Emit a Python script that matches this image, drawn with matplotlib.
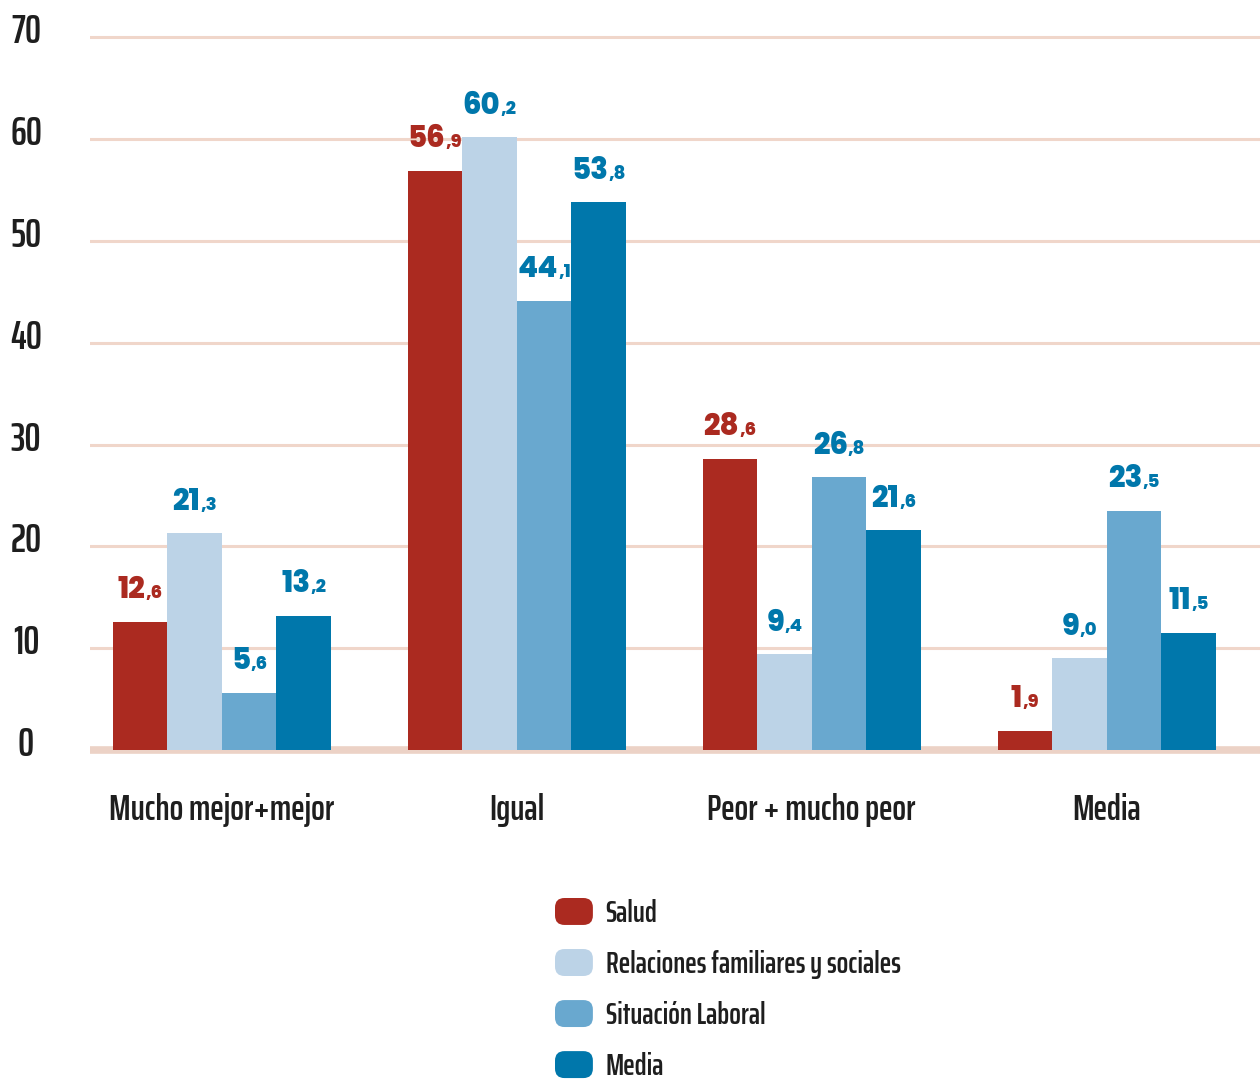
import numpy as np
import matplotlib
matplotlib.use("Agg")
import matplotlib.pyplot as plt
from matplotlib.patches import Patch, FancyBboxPatch
from matplotlib.legend_handler import HandlerPatch
from matplotlib.transforms import ScaledTranslation

categories = ["Mucho mejor+mejor", "Igual", "Peor + mucho peor", "Media"]
series_names = ["Salud", "Relaciones familiares y sociales", "Situación Laboral", "Media"]
salud = [12.6, 56.9, 28.6, 1.9]
relaciones = [21.3, 60.2, 9.4, 9.0]
laboral = [5.6, 44.1, 26.8, 23.5]
media = [13.2, 53.8, 21.6, 11.5]
yticks = [0, 10, 20, 30, 40, 50, 60, 70]

bar_colors = ["#ab2a20", "#bcd3e7", "#69a8cf", "#0077ab"]
label_colors = ["#ab2a20", "#0077ab", "#0077ab", "#0077ab"]
grid_color = "#f0d6ca"
text_color = "#1e1e1e"
cond_font = ["Saira ExtraCondensed", "DejaVu Sans"]
bold_font = ["Poppins", "DejaVu Sans"]


class RoundHandler(HandlerPatch):
    # rounded swatch for the legend
    def create_artists(self, legend, orig_handle, xdescent, ydescent,
                       width, height, fontsize, trans):
        r = height * 0.35
        p = FancyBboxPatch((-xdescent + r, -ydescent + r), width - 2 * r, height - 2 * r,
                           boxstyle="round,pad=%f" % r,
                           fc=orig_handle.get_facecolor(), ec="none", transform=trans)
        return [p]


fig = plt.figure(figsize=(12.6, 10.79), dpi=100)
ax = fig.add_axes([90 / 1260, 317 / 1079, 1 - 90 / 1260, 732 / 1079])

x = np.arange(len(categories))
w = 0.185
all_series = [salud, relaciones, laboral, media]
dy = 17  # label baseline above bar top, points

pairs = []
for i, vals in enumerate(all_series):
    xs = x + (i - 1.5) * w
    ax.bar(xs, vals, width=w, color=bar_colors[i], zorder=3)
    for xi, v in zip(xs, vals):
        ip, dp = ("%.1f" % v).split(".")
        t1 = ax.annotate(ip, xy=(xi, v), xytext=(0, dy), textcoords="offset points",
                         ha="left", va="baseline", fontsize=21, fontweight=800,
                         color=label_colors[i], family=bold_font, zorder=4)
        t2 = ax.annotate("," + dp, xy=(xi, v), xytext=(0, dy), textcoords="offset points",
                         ha="left", va="baseline", fontsize=13, fontweight=800,
                         color=label_colors[i], family=bold_font, zorder=4)
        pairs.append((t1, t2))

ax.set_xlim(-0.447, 3.52)
ax.set_ylim(-1.18, 70.73)
ax.set_yticks(yticks)
ax.set_yticklabels([str(v) for v in yticks], fontsize=29, fontweight="semibold",
                   color=text_color, family=cond_font)
ax.set_xticks(x)
ax.set_xticklabels(categories, fontsize=26, fontweight="semibold", color=text_color, family=cond_font)
ax.tick_params(axis="x", length=0, pad=22)
ax.tick_params(axis="y", length=0, pad=46)
off = ScaledTranslation(0, 9 / 100, fig.dpi_scale_trans)
for lab in ax.get_yticklabels():
    lab.set_horizontalalignment("center")
    lab.set_transform(lab.get_transform() + off)

for v in yticks[1:]:
    ax.axhline(v, color=grid_color, lw=2.2, zorder=1)
ax.axhline(0, color="#ecd2c6", lw=5.5, zorder=2)

for s in ax.spines.values():
    s.set_visible(False)

handles = [Patch(facecolor=c) for c in bar_colors]
leg = fig.legend(handles, series_names, loc="upper left", bbox_to_anchor=(555 / 1260, 1 - 898 / 1079),
                 frameon=False, handler_map={Patch: RoundHandler()},
                 handlelength=1.24, handleheight=0.98, handletextpad=0.42,
                 labelspacing=0.69, borderpad=0, borderaxespad=0,
                 prop={"family": cond_font, "size": 22, "weight": "semibold"})
for t in leg.get_texts():
    t.set_color(text_color)

# centre each "int,dec" label over its bar
renderer = fig.canvas.get_renderer()
k = 72 / fig.dpi
for t1, t2 in pairs:
    wi = t1.get_window_extent(renderer).width * k
    wd = t2.get_window_extent(renderer).width * k
    start = -(wi + wd) / 2
    t1.xyann = (start, dy)
    t2.xyann = (start + wi, dy)

fig.savefig("out.png", dpi=100)
